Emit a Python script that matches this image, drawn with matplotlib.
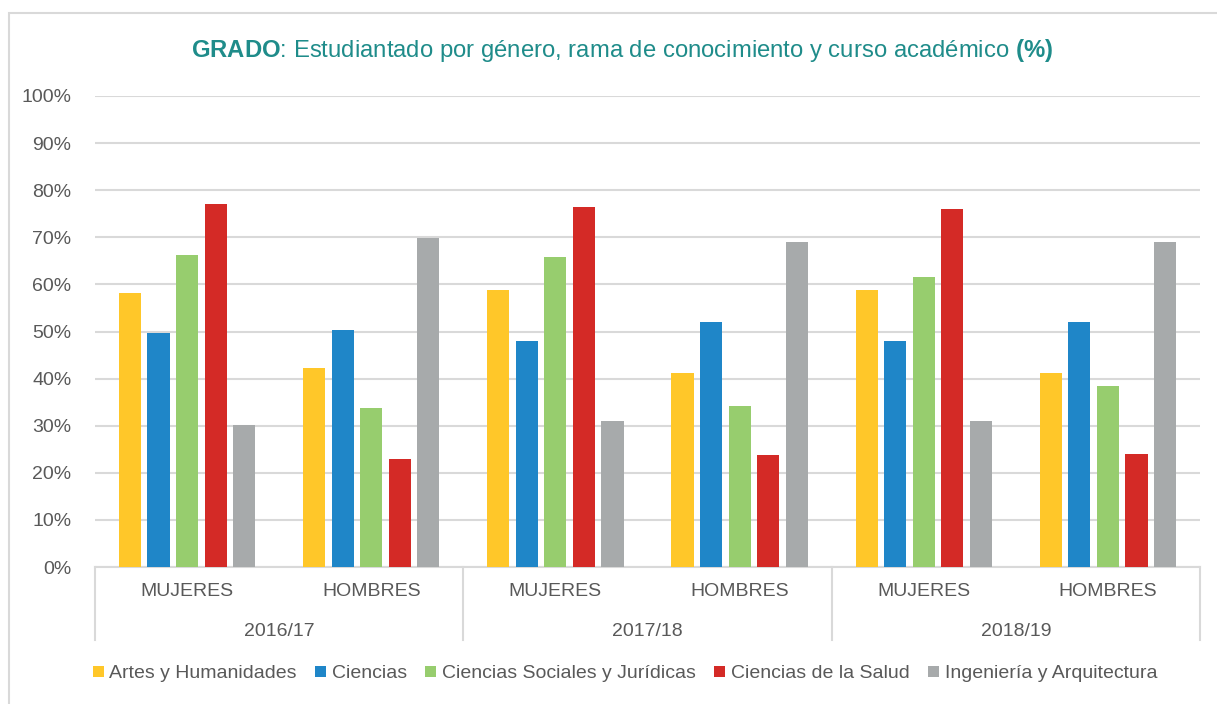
import numpy as np
import matplotlib.pyplot as plt
from matplotlib.patches import Rectangle
import matplotlib.transforms as mtransforms

plt.rcParams['font.family'] = ['Liberation Sans', 'DejaVu Sans']
plt.rcParams['mathtext.fontset'] = 'custom'
plt.rcParams['mathtext.rm'] = 'Liberation Sans'
plt.rcParams['mathtext.bf'] = 'Liberation Sans:bold'

## data
years = ["2016/17", "2017/18", "2018/19"]
genders = ["MUJERES", "HOMBRES"]
ramas = ["Artes y Humanidades", "Ciencias", "Ciencias Sociales y Jurídicas",
         "Ciencias de la Salud", "Ingeniería y Arquitectura"]
# one list per rama, order: 16/17 M, 16/17 H, 17/18 M, 17/18 H, 18/19 M, 18/19 H
artes = [58.2, 42.3, 58.8, 41.2, 58.8, 41.2]
ciencias = [49.7, 50.3, 48.0, 52.0, 48.0, 52.0]
sociales = [66.2, 33.8, 65.8, 34.2, 61.6, 38.4]
salud = [77.0, 23.0, 76.4, 23.8, 76.0, 24.0]
ingenieria = [30.1, 69.9, 31.0, 69.0, 31.0, 69.0]
colors = ['#FFC729', '#1F86C8', '#97CD6E', '#D42A26', '#A7AAAB']

txt = '#595959'
grid_c = '#D9D9D9'

fig = plt.figure(figsize=(12.17, 7.04), dpi=100)
W, H = 1217, 704
ax = fig.add_axes([95 / W, 1 - 567 / H, (1200 - 95) / W, (567 - 96) / H])

series = [artes, ciencias, sociales, salud, ingenieria]
x = np.arange(6) + 0.5
step = 0.155
width = 0.12
for i, (vals, c) in enumerate(zip(series, colors)):
    ax.bar(x + (i - 2) * step, vals, width, color=c, label=ramas[i], zorder=3)

ax.set_xlim(0, 6)
ax.set_ylim(0, 100)
ax.set_yticks(np.arange(0, 101, 10))
ax.set_yticklabels(['%d%%' % v for v in range(0, 101, 10)], fontsize=14, color=txt)
ax.yaxis.grid(True, color=grid_c, linewidth=1.5, zorder=0)
ax.tick_params(axis='y', length=0, pad=17)
ax.set_xticks([])
for s in ['top', 'right', 'left']:
    ax.spines[s].set_visible(False)
ax.spines['bottom'].set_color(grid_c)
ax.spines['bottom'].set_linewidth(1.5)

# category axis (two levels)
trans = mtransforms.blended_transform_factory(ax.transData, ax.transAxes)
for k in range(6):
    ax.text(x[k], -0.052, genders[k % 2], transform=trans, ha='center', va='center',
            fontsize=14, color=txt)
for j in range(3):
    ax.text(2 * j + 1, -0.137, years[j], transform=trans, ha='center', va='center',
            fontsize=14, color=txt)
for sx in [0, 2, 4, 6]:
    ax.plot([sx, sx], [0, -0.155], transform=trans, color=grid_c, lw=1.5, clip_on=False)

# title
fig.text(622 / W, 1 - 50 / H,
         r"$\mathbf{GRADO}$: Estudiantado por género, rama de conocimiento y curso académico $\mathbf{(\%)}$",
         ha='center', va='center', fontsize=17.2, color='#1F8C8A')

# legend
fig.legend(loc='center', bbox_to_anchor=(625 / W, 1 - 674 / H), ncol=5, frameon=False,
           fontsize=14, labelcolor=txt, handlelength=0.55, handleheight=0.55,
           handletextpad=0.3, columnspacing=0.95)

# outer frame
fig.patches.append(Rectangle((9 / W, -0.01), 1.02 - 9 / W, 1 - 13 / H + 0.01,
                             transform=fig.transFigure, fill=False,
                             edgecolor='#D9D9D9', lw=1.5))

fig.savefig('out.png', dpi=100)
